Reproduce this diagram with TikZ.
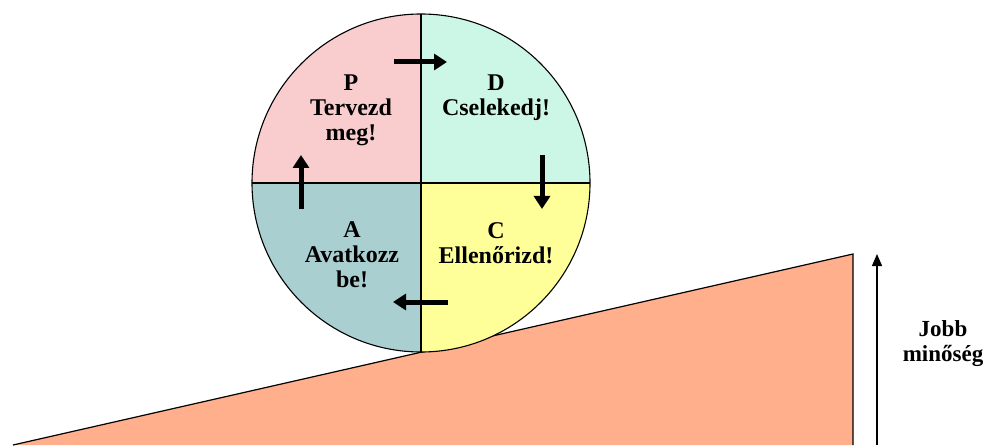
\documentclass[tikz,border=0pt]{standalone}
\usepackage{fontspec}
\setmainfont{Liberation Serif}
\usetikzlibrary{arrows.meta}
\definecolor{qP}{RGB}{249,205,205}
\definecolor{qD}{RGB}{204,247,230}
\definecolor{qA}{RGB}{170,207,209}
\definecolor{qC}{RGB}{255,255,153}
\definecolor{wedge}{RGB}{255,175,140}
\tikzset{
  lbl/.style={align=center,font=\bfseries\fontsize{24}{25}\selectfont,inner sep=0pt},
  cyc/.style={line width=5pt,-{Triangle[width=16pt,length=13pt]}},
  side/.style={line width=1.4pt,-{Triangle[width=10pt,length=12pt]}}
}
\begin{document}
\begin{tikzpicture}[x=1pt,y=1pt]
\useasboundingbox (0,0) rectangle (995,445);
% wedge
\coordinate (wl) at (13,0);
\coordinate (wt) at (853,191);
\coordinate (wb) at (853,0);
\fill[wedge] (wl) -- (wt) -- (wb) -- cycle;
\draw[line width=1.2pt] (wl) -- (wt) -- (wb);
% circle
\coordinate (c) at (421,262);
\fill[qP] (c) -- ++(-169,0) arc[start angle=180,end angle=90,radius=169] -- cycle;
\fill[qD] (c) -- ++(0,169) arc[start angle=90,end angle=0,radius=169] -- cycle;
\fill[qC] (c) -- ++(169,0) arc[start angle=0,end angle=-90,radius=169] -- cycle;
\fill[qA] (c) -- ++(0,-169) arc[start angle=270,end angle=180,radius=169] -- cycle;
\draw[line width=1.1pt] (c) circle[radius=169];
\draw[line width=1.1pt] ([xshift=-169]c) -- ([xshift=169]c);
\draw[line width=1.1pt] ([yshift=-169]c) -- ([yshift=169]c);
% labels
\node[lbl] (P) at (351,335) {P\\Tervezd\\meg!};
\node[lbl] (D) at (496,347) {D\\Cselekedj!};
\node[lbl] (A) at (352,190) {A\\Avatkozz\\be!};
\node[lbl] (C) at (496,202) {C\\Ellenőrizd!};
% cycle arrows
\coordinate (pd1) at (394,383); \coordinate (pd2) at (447,383);
\coordinate (dc1) at (542,290); \coordinate (dc2) at (542,236);
\coordinate (ca1) at (448,143); \coordinate (ca2) at (393,143);
\coordinate (ap1) at (301,236); \coordinate (ap2) at (301,290);
\draw[cyc] (pd1) -- (pd2);
\draw[cyc] (dc1) -- (dc2);
\draw[cyc] (ca1) -- (ca2);
\draw[cyc] (ap1) -- (ap2);
% quality arrow
\coordinate (q1) at (877,0); \coordinate (q2) at (877,191);
\draw[side] (q1) -- (q2);
\node[lbl,font=\bfseries\fontsize{23}{25}\selectfont] (J) at (943,101) {Jobb\\minőség};
\end{tikzpicture}
\end{document}
